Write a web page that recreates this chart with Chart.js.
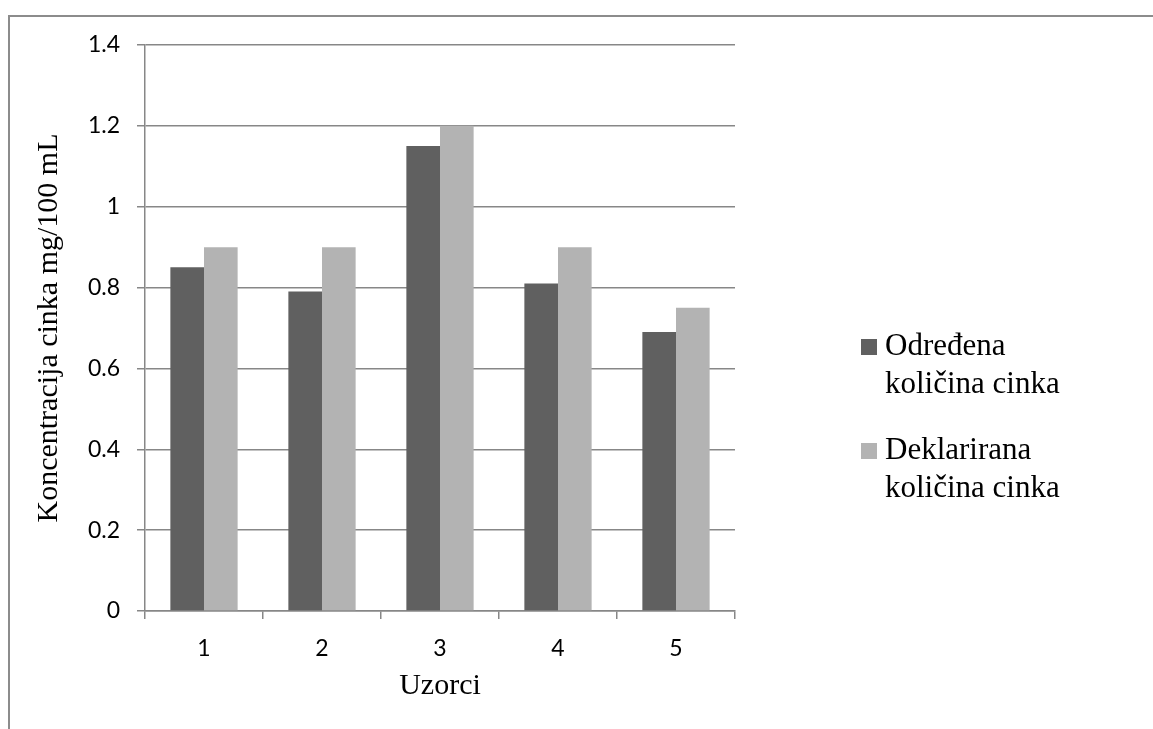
<!DOCTYPE html>
<html>
<head>
<meta charset="utf-8">
<script src="https://cdn.jsdelivr.net/npm/chart.js@4.4.1/dist/chart.umd.min.js"></script>
<style>
html, body { margin: 0; padding: 0; background: #fff; }
#wrap { position: relative; width: 1153px; height: 729px; overflow: hidden; }
#frame { position: absolute; left: 8px; top: 15px; width: 1300px; height: 900px;
         border-left: 2px solid #8c8c8c; border-top: 2px solid #8c8c8c; }
canvas { position: absolute; left: 0; top: 0; }
</style>
</head>
<body>
<div id="wrap">
  <div id="frame"></div>
  <canvas id="zincChart" width="1153" height="729"></canvas>
</div>
<script>
// podaci s grafa
const uzorci = ['1', '2', '3', '4', '5'];
const odredena = [0.85, 0.79, 1.15, 0.81, 0.69];
const deklarirana = [0.90, 0.90, 1.20, 0.90, 0.75];
const nazivi = [['Određena', 'količina cinka'], ['Deklarirana', 'količina cinka']];
const yTicks = ['0', '0.2', '0.4', '0.6', '0.8', '1', '1.2', '1.4'];

const gridColor = '#878787';
const serif = '"Liberation Serif", "Times New Roman", serif';
const sans = 'Lato, "Open Sans", sans-serif';

// legenda desno, u dva reda po seriji
const legendPlugin = {
    id: 'desnaLegenda',
    afterDraw(chart) {
        const ctx = chart.ctx;
        ctx.save();
        ctx.font = '31px ' + serif;
        ctx.textBaseline = 'alphabetic';
        chart.data.datasets.forEach((ds, i) => {
            const y0 = 355 + i * 104;
            ctx.fillStyle = ds.backgroundColor;
            ctx.fillRect(861, y0 - 16, 16, 16);
            ctx.fillStyle = '#000';
            nazivi[i].forEach((line, j) => {
                ctx.fillText(line, 885, y0 + j * 38);
            });
        });
        ctx.restore();
    }
};

const ctx = document.getElementById('zincChart').getContext('2d');
new Chart(ctx, {
    type: 'bar',
    data: {
        labels: uzorci,
        datasets: [
            {
                label: nazivi[0].join(' '),
                data: odredena,
                backgroundColor: '#606060',
                categoryPercentage: 0.57,
                barPercentage: 1.0
            },
            {
                label: nazivi[1].join(' '),
                data: deklarirana,
                backgroundColor: '#b3b3b3',
                categoryPercentage: 0.57,
                barPercentage: 1.0
            }
        ]
    },
    options: {
        responsive: false,
        animation: false,
        devicePixelRatio: 1,
        layout: { padding: { top: 45, right: 418, left: 0, bottom: 0 } },
        plugins: {
            legend: { display: false },
            tooltip: { enabled: false }
        },
        scales: {
            x: {
                afterFit: scale => { scale.height = 118; },
                grid: {
                    offset: true,
                    drawOnChartArea: false,
                    drawTicks: true,
                    tickLength: 8,
                    color: gridColor,
                    lineWidth: 1.5
                },
                border: { display: true, color: gridColor, width: 1.5 },
                ticks: {
                    color: '#000',
                    padding: 16,
                    font: { family: sans, size: 23 }
                },
                title: {
                    display: true,
                    text: 'Uzorci',
                    color: '#000',
                    padding: { top: 0, bottom: 25 },
                    font: { family: serif, size: 30 }
                }
            },
            y: {
                min: 0,
                max: 1.4,
                afterFit: scale => { scale.width = 145; },
                grid: {
                    drawTicks: true,
                    tickLength: 8,
                    color: gridColor,
                    lineWidth: 1.5
                },
                border: { display: true, color: gridColor, width: 1.5 },
                ticks: {
                    stepSize: 0.2,
                    color: '#000',
                    padding: 17,
                    font: { family: sans, size: 23 },
                    callback: (value, index) => yTicks[index]
                },
                title: {
                    display: true,
                    text: 'Koncentracija cinka mg/100 mL',
                    color: '#000',
                    padding: { top: 31, bottom: 0 },
                    font: { family: serif, size: 30 }
                }
            }
        }
    },
    plugins: [legendPlugin]
});
</script>
</body>
</html>
